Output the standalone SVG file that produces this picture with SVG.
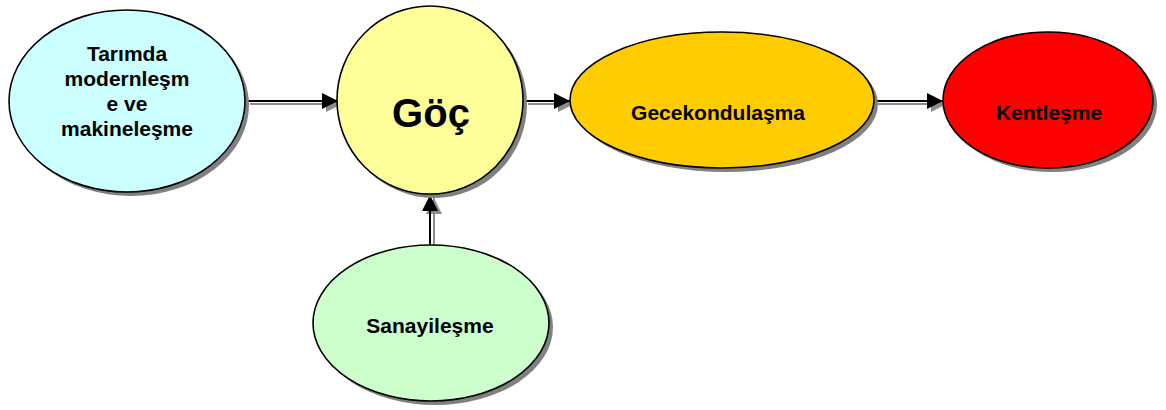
<svg xmlns="http://www.w3.org/2000/svg" width="1166" height="410" viewBox="0 0 1166 410">
  <defs>
    <style>
      .node { stroke: #000; stroke-width: 1.6; }
      .shadow { fill: #808080; stroke: none; }
      .label { font-family: "Liberation Sans", Arial, sans-serif; font-weight: bold; font-size: 21px; fill: #000; text-anchor: middle; }
      .big { font-size: 40px; }
      .wire { stroke: #000; stroke-width: 2; fill: none; }
      .wire-shadow { stroke: #8c8c8c; stroke-width: 2; fill: none; }
    </style>
    <marker id="head" markerUnits="userSpaceOnUse" markerWidth="16" markerHeight="16" refX="16" refY="8" orient="auto">
      <path d="M0,0 L16,8 L0,16 Z" fill="#000"/>
    </marker>
    <marker id="head-shadow" markerUnits="userSpaceOnUse" markerWidth="16" markerHeight="16" refX="16" refY="8" orient="auto">
      <path d="M0,0 L16,8 L0,16 Z" fill="#8c8c8c"/>
    </marker>
  </defs>

  <rect width="1166" height="410" fill="#fff"/>

  <!-- connectors: drop shadow first, then the black line with its head -->
  <g id="connectors">
    <g transform="translate(4,3)">
      <line class="wire-shadow" x1="246" y1="101" x2="338" y2="101" marker-end="url(#head-shadow)"/>
      <line class="wire-shadow" x1="524" y1="101" x2="570" y2="101" marker-end="url(#head-shadow)"/>
      <line class="wire-shadow" x1="874" y1="101" x2="943" y2="101" marker-end="url(#head-shadow)"/>
      <line class="wire-shadow" x1="430" y1="245" x2="430" y2="195" marker-end="url(#head-shadow)"/>
    </g>
    <line class="wire" x1="246" y1="101" x2="338" y2="101" marker-end="url(#head)"/>
    <line class="wire" x1="524" y1="101" x2="570" y2="101" marker-end="url(#head)"/>
    <line class="wire" x1="874" y1="101" x2="943" y2="101" marker-end="url(#head)"/>
    <line class="wire" x1="430" y1="245" x2="430" y2="195" marker-end="url(#head)"/>
  </g>

  <g id="tarim">
    <ellipse class="shadow" cx="131" cy="105" rx="118" ry="91"/>
    <ellipse class="node" cx="127" cy="101" rx="118" ry="91" fill="#CCFFFF"/>
    <text class="label" x="127" y="61">Tarımda</text>
    <text class="label" x="127" y="86">modernleşm</text>
    <text class="label" x="127" y="111">e ve</text>
    <text class="label" x="127" y="136">makineleşme</text>
  </g>

  <g id="goc">
    <ellipse class="shadow" cx="434" cy="104" rx="93" ry="94"/>
    <ellipse class="node" cx="430" cy="100" rx="93" ry="94" fill="#FFFF99"/>
    <text class="label big" x="431" y="127">Göç</text>
  </g>

  <g id="gecekondu">
    <ellipse class="shadow" cx="726" cy="104" rx="152" ry="68"/>
    <ellipse class="node" cx="722" cy="100" rx="152" ry="68" fill="#FFCC00"/>
    <text class="label" x="718" y="120">Gecekondulaşma</text>
  </g>

  <g id="kent">
    <ellipse class="shadow" cx="1052" cy="104" rx="105" ry="68"/>
    <ellipse class="node" cx="1048" cy="100" rx="105" ry="68" fill="#FF0000"/>
    <text class="label" x="1049" y="120">Kentleşme</text>
  </g>

  <g id="sanayi">
    <ellipse class="shadow" cx="435" cy="327" rx="118" ry="78"/>
    <ellipse class="node" cx="431" cy="323" rx="118" ry="78" fill="#CCFFCC"/>
    <text class="label" x="430" y="333">Sanayileşme</text>
  </g>
</svg>
